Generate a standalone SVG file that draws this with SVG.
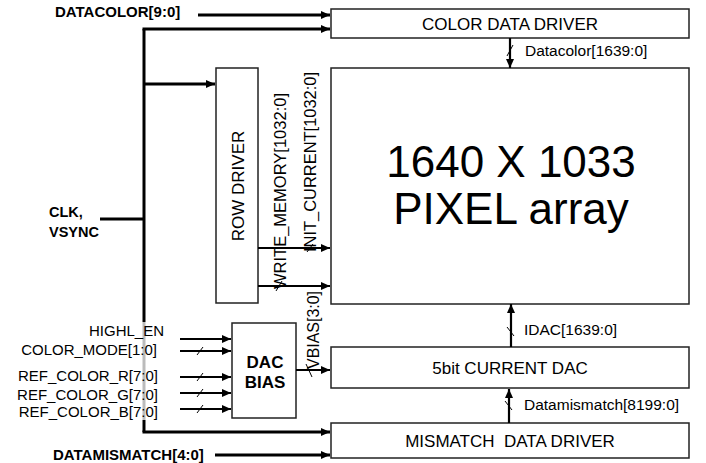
<svg xmlns="http://www.w3.org/2000/svg" width="706" height="463" viewBox="0 0 706 463">
<style>
.box{fill:#fff;stroke:#222;stroke-width:1.5}
.t{font-family:"Liberation Sans",Arial,sans-serif;fill:#000}
.b{font-weight:bold}
.bus{stroke:#000;stroke-width:3;fill:none}
.w{stroke:#000;stroke-width:2.2;fill:none}
.sl{stroke:#000;stroke-width:1;fill:none}
</style>
<defs>
<marker id="ah" markerUnits="userSpaceOnUse" markerWidth="10" markerHeight="8" refX="9" refY="4" orient="auto">
<path d="M0,0 L9,4 L0,8 Z" fill="#000"/>
</marker>
</defs>
<rect width="706" height="463" fill="#fff"/>

<g id="color-data-driver">
<rect class="box" x="331" y="9" width="358" height="29"/>
<text class="t" x="510" y="30" font-size="17" text-anchor="middle">COLOR DATA DRIVER</text>
</g>
<g id="pixel-array">
<rect class="box" x="331" y="68" width="358" height="236" stroke-width="2"/>
<text class="t" x="511" y="177" font-size="44" text-anchor="middle">1640 X 1033</text>
<text class="t" x="511" y="224" font-size="44" text-anchor="middle">PIXEL array</text>
</g>
<g id="row-driver">
<rect class="box" x="216" y="68" width="42" height="235"/>
<text class="t" transform="translate(244,186) rotate(-90)" font-size="17" text-anchor="middle">ROW DRIVER</text>
</g>
<g id="dac-bias">
<rect class="box" x="232" y="323" width="64" height="95"/>
<text class="t b" x="265" y="368" font-size="17" text-anchor="middle">DAC</text>
<text class="t b" x="265" y="388" font-size="17" text-anchor="middle">BIAS</text>
</g>
<g id="current-dac">
<rect class="box" x="331" y="347" width="358" height="41"/>
<text class="t" x="510" y="374" font-size="17" text-anchor="middle">5bit CURRENT DAC</text>
</g>
<g id="mismatch-data-driver">
<rect class="box" x="331" y="423" width="358" height="35"/>
<text class="t" x="510" y="447" font-size="17" text-anchor="middle" xml:space="preserve">MISMATCH  DATA DRIVER</text>
</g>

<g id="connectors">
<path class="bus" d="M144,29 V322"/>
<path d="M144,322 V420" stroke="#bbb" stroke-width="3"/>
<path class="bus" d="M144,420 V432"/>
<path class="bus" d="M142.5,29 H330" marker-end="url(#ah)"/>
<path class="bus" d="M198,15 H330" marker-end="url(#ah)"/>
<path class="bus" d="M144,84 H215" marker-end="url(#ah)"/>
<path class="bus" d="M100,219 H144"/>
<path class="bus" d="M142.5,432 H330" marker-end="url(#ah)"/>
<path class="bus" d="M215,455 H330" marker-end="url(#ah)"/>

<path class="w" d="M510,38 V68" marker-end="url(#ah)"/>
<path class="sl" d="M507,56 L513,45"/>
<path class="w" d="M511,347 V304" marker-end="url(#ah)"/>
<path class="sl" d="M507,327 L514,336"/>
<path class="w" d="M509,423 V389" marker-end="url(#ah)"/>
<path class="sl" d="M505,401 L512,410"/>

<path class="w" d="M258,248 H330" marker-end="url(#ah)"/>
<path class="sl" d="M307,252 L313,244"/>
<path class="w" d="M258,286 H330" marker-end="url(#ah)"/>
<path class="sl" d="M276,291 L282,281"/>

<path class="w" d="M296,370 H330" marker-end="url(#ah)"/>
<path class="sl" d="M306,364 L312,377"/>

<path class="w" d="M180,339 H231" marker-end="url(#ah)"/>
<path class="w" d="M180,351 H231" marker-end="url(#ah)"/>
<path class="sl" d="M197,355 L203,347"/>
<path class="w" d="M180,377 H231" marker-end="url(#ah)"/>
<path class="sl" d="M197,381 L203,373"/>
<path class="w" d="M180,393 H231" marker-end="url(#ah)"/>
<path class="sl" d="M197,397 L203,389"/>
<path class="w" d="M180,409 H231" marker-end="url(#ah)"/>
<path class="sl" d="M197,413 L203,405"/>
</g>

<g id="labels">
<text class="t b" x="55" y="17" font-size="15">DATACOLOR[9:0]</text>
<text class="t b" x="49" y="217" font-size="14.5">CLK,</text>
<text class="t b" x="49" y="237" font-size="14.5">VSYNC</text>
<text class="t b" x="53" y="460" font-size="15">DATAMISMATCH[4:0]</text>
<text class="t" x="525" y="56" font-size="15.5">Datacolor[1639:0]</text>
<text class="t" x="524" y="335" font-size="15.5">IDAC[1639:0]</text>
<text class="t" x="524" y="410" font-size="15.5">Datamismatch[8199:0]</text>
<text class="t" transform="translate(286,289) rotate(-90)" font-size="16" textLength="196" lengthAdjust="spacingAndGlyphs">WRITE_MEMORY[1032:0]</text>
<text class="t" transform="translate(316,252) rotate(-90)" font-size="16" textLength="180" lengthAdjust="spacingAndGlyphs">INIT_CURRENT[1032:0]</text>
<text class="t" transform="translate(319,369) rotate(-90)" font-size="16" textLength="78" lengthAdjust="spacingAndGlyphs">VBIAS[3:0]</text>
<text class="t" x="164" y="336" font-size="15" text-anchor="end">HIGHL_EN</text>
<text class="t" x="157" y="355" font-size="15" text-anchor="end">COLOR_MODE[1:0]</text>
<text class="t" x="158" y="381" font-size="15" text-anchor="end">REF_COLOR_R[7:0]</text>
<text class="t" x="158" y="400" font-size="15" text-anchor="end">REF_COLOR_G[7:0]</text>
<text class="t" x="158" y="417" font-size="15" text-anchor="end">REF_COLOR_B[7:0]</text>
</g>
</svg>
